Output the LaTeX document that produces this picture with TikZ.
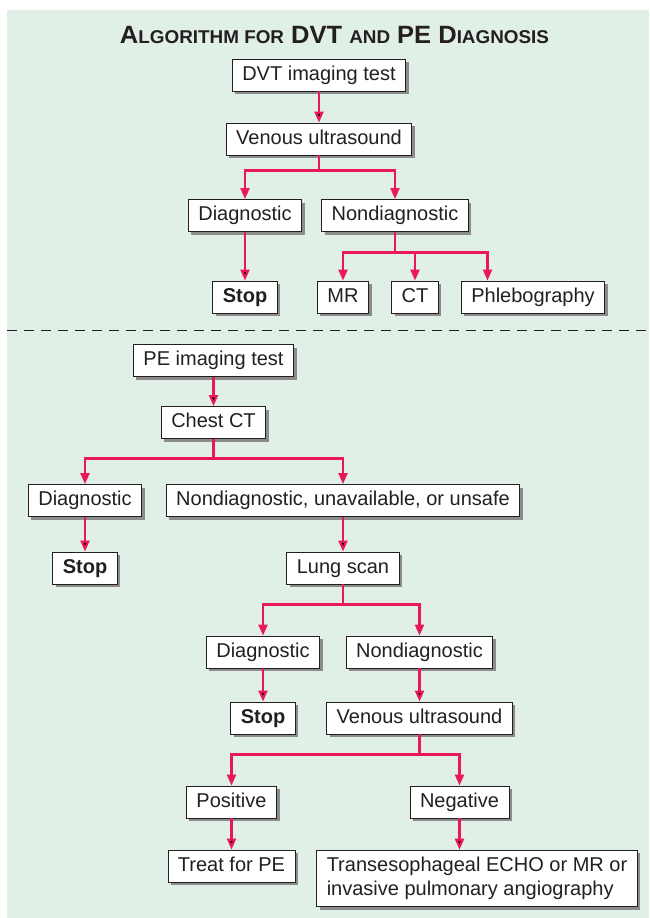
\documentclass[tikz,border=0pt]{standalone}
\usepackage{fontspec}
\setmainfont{Liberation Sans}
\usepackage{xcolor}
\usepackage{tikz}
\usetikzlibrary{positioning, arrows.meta, shadows}

\definecolor{panelgreen}{RGB}{224,240,230}
\definecolor{flowpink}{RGB}{232,24,90}
\definecolor{inkgray}{RGB}{35,31,32}

\newcommand{\capbig}[1]{{\fontsize{25}{29}\selectfont #1}}
\newcommand{\capsmall}[1]{{\fontsize{18.5}{22}\selectfont #1}}

\tikzset{
  boxbase/.style={draw=inkgray, line width=0.9pt, fill=white, text=inkgray,
    font=\fontsize{20}{24}\selectfont, inner xsep=10pt,
    drop shadow={shadow xshift=3pt, shadow yshift=-3pt, fill=black!45, opacity=1}},
  box/.style={boxbase, text height=14.5pt, text depth=4.5pt, inner ysep=0pt, minimum height=32pt},
  widebox/.style={boxbase, align=left, inner ysep=7pt},
  flow/.style={draw=flowpink, line width=2.2pt, -{Triangle[width=9pt,length=11pt]}},
  sepline/.style={draw=inkgray, line width=0.9pt, dash pattern=on 10pt off 7pt},
}

\begin{document}
\begin{tikzpicture}[x=1pt, y=1pt, on grid]
        \useasboundingbox (0,0) rectangle (649,-918);
        \fill[panelgreen] (7,-10) rectangle (649,-918);

        \node[anchor=base, text=inkgray, font=\bfseries] (title) at (334.5,-43)
          {\scalebox{1.02}[1]{\capbig{A}\capsmall{LGORITHM FOR}\capbig{ DVT }\capsmall{AND}\capbig{ PE D}\capsmall{IAGNOSIS}}};

        % DVT
        \node[box] (dvt) at (319,-75) {DVT imaging test};
        \node[box] (vus1) [below=64pt of dvt] {Venous ultrasound};
        \node[box] (dgn1) [below left=76.5pt and 74pt of vus1] {Diagnostic};
        \node[box] (nond1) [right=150pt of dgn1] {Nondiagnostic};
        \node[box] (stop1) [below=81.5pt of dgn1] {\textbf{Stop}};
        \node[box] (mr) [below left=81.5pt and 52pt of nond1] {MR};
        \node[box] (ct) [right=72pt of mr] {CT};
        \node[box] (phl) [right=118pt of ct] {Phlebography};

        \coordinate (sepL) at (7,-330);
        \coordinate (sepR) at (649,-330);

        % PE
        \node[box] (pe) [below left=285.5pt and 105.5pt of dvt] {PE imaging test};
        \node[box] (chest) [below=62pt of pe] {Chest CT};
        \node[box] (dgn2) [below left=78pt and 128.5pt of chest] {Diagnostic};
        \node[box] (nond2) [right=258pt of dgn2] {Nondiagnostic, unavailable, or unsafe};
        \node[box] (stop2) [below=67.5pt of dgn2] {\textbf{Stop}};
        \node[box] (lung) [below=67.5pt of nond2] {Lung scan};
        \node[box] (dgn3) [below left=84pt and 80pt of lung] {Diagnostic};
        \node[box] (nond3) [right=156.5pt of dgn3] {Nondiagnostic};
        \node[box] (stop3) [below=66pt of dgn3] {\textbf{Stop}};
        \node[box] (vus2) [below=66pt of nond3] {Venous ultrasound};
        \node[box] (pos) [below left=84pt and 188pt of vus2] {Positive};
        \node[box] (neg) [right=228pt of pos] {Negative};
        \node[box] (treat) [below=64pt of pos] {Treat for PE};
        \node[widebox] (trans) [below right=76.5pt and 17.5pt of neg]
          {Transesophageal ECHO or MR or\\invasive pulmonary angiography};

        \coordinate[below=15pt of vus1.south] (fork1);
        \coordinate[below=20.5pt of nond1.south] (fork2);
        \coordinate[below=19.5pt of chest.south] (fork3);
        \coordinate[below=20pt of lung.south] (fork4);
        \coordinate[below=20pt of vus2.south] (fork5);

        \path[sepline] (sepL) -- (sepR);

        \path[flow]
        (dvt) edge (vus1)
        (dgn1) edge (stop1)
        (pe) edge (chest)
        (dgn2) edge (stop2)
        (nond2) edge (lung)
        (dgn3) edge (stop3)
        (nond3) edge (vus2)
        (pos) edge (treat)
        (neg) edge (neg |- trans.north);

        \draw[flow] (vus1) -- (fork1) -| (dgn1);
        \draw[flow] (vus1) -- (fork1) -| (nond1);
        \draw[flow] (nond1) -- (fork2) -| (mr);
        \draw[flow] (nond1) -- (fork2) -| (ct);
        \draw[flow] (nond1) -- (fork2) -| ([xshift=-45.5pt]phl.north);
        \draw[flow] (chest) -- (fork3) -| (dgn2);
        \draw[flow] (chest) -- (fork3) -| (nond2);
        \draw[flow] (lung) -- (fork4) -| (dgn3);
        \draw[flow] (lung) -- (fork4) -| (nond3);
        \draw[flow] (vus2) -- (fork5) -| (pos);
        \draw[flow] (vus2) -- (fork5) -| (neg);

\end{tikzpicture}
\end{document}
